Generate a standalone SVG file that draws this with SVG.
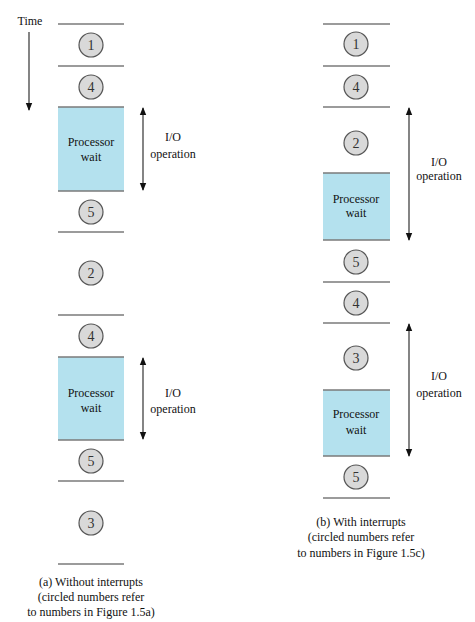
<svg xmlns="http://www.w3.org/2000/svg" width="475" height="622" viewBox="0 0 475 622">
<defs>
<style>
.sep{stroke:#7a7a7a;stroke-width:1.5;fill:none}
.box{fill:#b4e1ee;stroke:none}
.c{fill:#d9d9d9;stroke:#555;stroke-width:1.2}
.n{font-family:"Liberation Serif","DejaVu Serif",serif;font-size:14px;fill:#333;text-anchor:middle}
.t{font-family:"Liberation Serif","DejaVu Serif",serif;font-size:12px;fill:#111;text-anchor:middle}
.ar{stroke:#333;stroke-width:1.2;fill:none}
</style>
<marker id="ah" viewBox="0 0 8 8" refX="7" refY="4" markerWidth="8" markerHeight="8" markerUnits="userSpaceOnUse" orient="auto-start-reverse">
<path d="M0,0.8 L8,4 L0,7.2 Z" fill="#111"/>
</marker>
</defs>
<rect width="475" height="622" fill="#fff"/>

<g id="time">
<text class="t" x="30" y="25">Time</text>
<line class="ar" x1="29" y1="32" x2="29" y2="110" marker-end="url(#ah)"/>
</g>

<g id="colA">
<rect class="box" x="58" y="107" width="66" height="84"/>
<rect class="box" x="58" y="357" width="66" height="83"/>
<line class="sep" x1="58" y1="24" x2="124" y2="24"/>
<line class="sep" x1="58" y1="66" x2="124" y2="66"/>
<line class="sep" x1="58" y1="107" x2="124" y2="107"/>
<line class="sep" x1="58" y1="191" x2="124" y2="191"/>
<line class="sep" x1="58" y1="232" x2="124" y2="232"/>
<line class="sep" x1="58" y1="315" x2="124" y2="315"/>
<line class="sep" x1="58" y1="357" x2="124" y2="357"/>
<line class="sep" x1="58" y1="440" x2="124" y2="440"/>
<line class="sep" x1="58" y1="481" x2="124" y2="481"/>
<line class="sep" x1="58" y1="564" x2="124" y2="564"/>
</g>
<g id="a1"><circle class="c" cx="91" cy="45" r="12"/><text class="n" x="91" y="50">1</text></g>
<g id="a4"><circle class="c" cx="91" cy="87" r="12"/><text class="n" x="91" y="92">4</text></g>
<g id="aw1"><text class="t" x="91" y="146">Processor</text><text class="t" x="91" y="161">wait</text></g>
<g id="a5"><circle class="c" cx="91" cy="212" r="12"/><text class="n" x="91" y="217">5</text></g>
<g id="a2"><circle class="c" cx="91" cy="273" r="12"/><text class="n" x="91" y="278">2</text></g>
<g id="a4b"><circle class="c" cx="91" cy="336" r="12"/><text class="n" x="91" y="341">4</text></g>
<g id="aw2"><text class="t" x="91" y="397">Processor</text><text class="t" x="91" y="412">wait</text></g>
<g id="a5b"><circle class="c" cx="91" cy="461" r="12"/><text class="n" x="91" y="466">5</text></g>
<g id="a3"><circle class="c" cx="91" cy="523" r="12"/><text class="n" x="91" y="528">3</text></g>
<g id="io1"><text class="t" x="173" y="141">I/O</text><text class="t" x="173" y="158">operation</text></g>
<g id="io2"><text class="t" x="173" y="397">I/O</text><text class="t" x="173" y="413">operation</text></g>
<g id="capA"><text class="t" x="91" y="586">(a) Without interrupts</text><text class="t" x="91" y="601">(circled numbers refer</text><text class="t" x="91" y="616">to numbers in Figure 1.5a)</text></g>

<g id="colB">
<rect class="box" x="323" y="173" width="67" height="67"/>
<rect class="box" x="323" y="390" width="67" height="66"/>
<line class="sep" x1="323" y1="24" x2="390" y2="24"/>
<line class="sep" x1="323" y1="66" x2="390" y2="66"/>
<line class="sep" x1="323" y1="107" x2="390" y2="107"/>
<line class="sep" x1="323" y1="173" x2="390" y2="173"/>
<line class="sep" x1="323" y1="240" x2="390" y2="240"/>
<line class="sep" x1="323" y1="282" x2="390" y2="282"/>
<line class="sep" x1="323" y1="323" x2="390" y2="323"/>
<line class="sep" x1="323" y1="390" x2="390" y2="390"/>
<line class="sep" x1="323" y1="456" x2="390" y2="456"/>
<line class="sep" x1="323" y1="498" x2="390" y2="498"/>
</g>
<g id="b1"><circle class="c" cx="356" cy="44" r="12"/><text class="n" x="356" y="49">1</text></g>
<g id="b4"><circle class="c" cx="356" cy="87" r="12"/><text class="n" x="356" y="92">4</text></g>
<g id="b2"><circle class="c" cx="356" cy="143" r="12"/><text class="n" x="356" y="148">2</text></g>
<g id="bw1"><text class="t" x="356" y="203">Processor</text><text class="t" x="356" y="217">wait</text></g>
<g id="b5"><circle class="c" cx="356" cy="262" r="12"/><text class="n" x="356" y="267">5</text></g>
<g id="b4b"><circle class="c" cx="356" cy="303" r="12"/><text class="n" x="356" y="308">4</text></g>
<g id="b3"><circle class="c" cx="356" cy="358" r="12"/><text class="n" x="356" y="363">3</text></g>
<g id="bw2"><text class="t" x="356" y="418">Processor</text><text class="t" x="356" y="434">wait</text></g>
<g id="b5b"><circle class="c" cx="356" cy="477" r="12"/><text class="n" x="356" y="482">5</text></g>
<g id="io3"><text class="t" x="439" y="166">I/O</text><text class="t" x="439" y="180">operation</text></g>
<g id="io4"><text class="t" x="439" y="380">I/O</text><text class="t" x="439" y="397">operation</text></g>
<g id="capB"><text class="t" x="361" y="526">(b) With interrupts</text><text class="t" x="361" y="541">(circled numbers refer</text><text class="t" x="361" y="557">to numbers in Figure 1.5c)</text></g>

<g id="connectors">
<line class="ar" x1="143" y1="108" x2="143" y2="190" marker-start="url(#ah)" marker-end="url(#ah)"/>
<line class="ar" x1="143" y1="358" x2="143" y2="439" marker-start="url(#ah)" marker-end="url(#ah)"/>
<line class="ar" x1="409" y1="108" x2="409" y2="240" marker-start="url(#ah)" marker-end="url(#ah)"/>
<line class="ar" x1="409" y1="324" x2="409" y2="456" marker-start="url(#ah)" marker-end="url(#ah)"/>
</g>
</svg>
